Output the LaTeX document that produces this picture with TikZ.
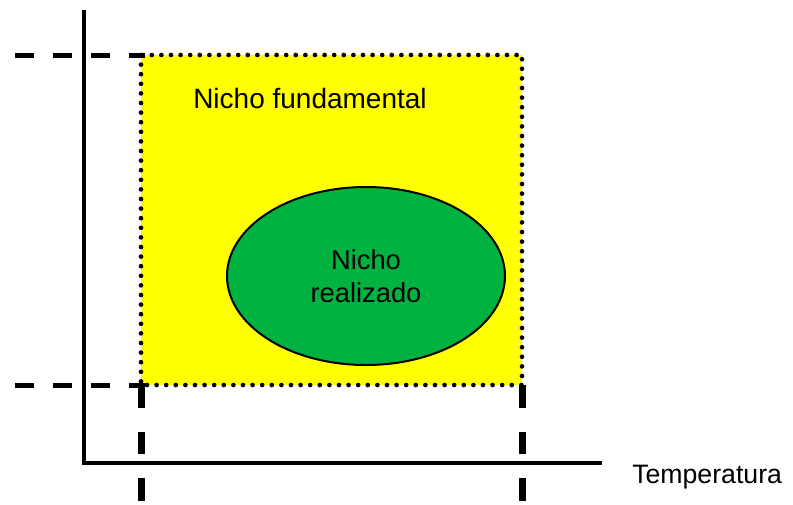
\documentclass[tikz,border=0pt]{standalone}
\usepackage{fontspec}
\setmainfont{Liberation Sans}
\usetikzlibrary{shapes.geometric}
\definecolor{nichoyellow}{RGB}{255,255,0}
\definecolor{nichogreen}{RGB}{0,178,64}
\tikzset{
  axisline/.style={line width=3pt, line join=miter},
  guidedash/.style={line width=3.75pt, dash pattern=on 14.25pt off 14.25pt},
  guidedashv/.style={line width=5.25pt, dash pattern=on 17pt off 18pt},
  fundbox/.style={fill=nichoyellow, line width=3.5pt, line cap=round, dash pattern=on 0pt off 7.2pt},
  realell/.style={ellipse, draw=black, line width=1.5pt, fill=nichogreen, minimum width=208.5pt, minimum height=133.5pt, inner sep=0pt, align=center, font=\fontsize{20.5}{25}\selectfont},
  lbl/.style={inner sep=0pt, anchor=base west}
}
\begin{document}
\begin{tikzpicture}[x=0.75pt, y=-0.75pt]
\useasboundingbox (0,0) rectangle (793,504);
% coordinates
\coordinate (tl) at (141,55);
\coordinate (br) at (522,385);
\coordinate (ytop) at (84,10);
\coordinate (origin) at (84,463);
\coordinate (xend) at (602,463);
\coordinate (dtopS) at (15,55);
\coordinate (dtopE) at (145,55);
\coordinate (dbotS) at (15,385);
\coordinate (dbotE) at (145,385);
\coordinate (dlS) at (141,385);
\coordinate (dlE) at (141,506);
\coordinate (drS) at (522,385);
\coordinate (drE) at (522,506);
% fundamental niche
\draw[fundbox] (tl) rectangle (br);
% guides
\draw[guidedash] (dtopS) -- (dtopE);
\draw[guidedash] (dbotS) -- (dbotE);
\draw[guidedashv] (dlS) -- (dlE);
\draw[guidedashv] (drS) -- (drE);
% axes
\draw[axisline] (ytop) -- (origin) -- (xend);
% realized niche
\node[realell] (real) at (366,276) {Nicho\\realizado};
% labels
\node[lbl, font=\fontsize{21}{25}\selectfont] (fund) at (193,108) {Nicho fundamental};
\node[lbl, font=\fontsize{20}{24}\selectfont] (temp) at (632,483) {Temperatura};
\end{tikzpicture}
\end{document}
